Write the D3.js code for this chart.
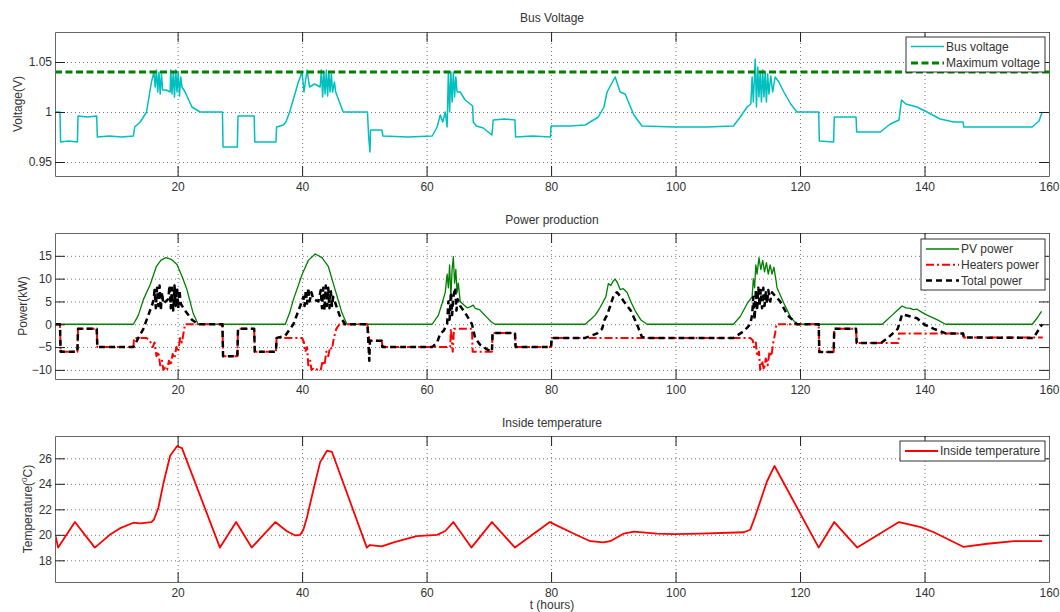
<!DOCTYPE html>
<html>
<head>
<meta charset="utf-8">
<script src="https://cdn.jsdelivr.net/npm/d3@7"></script>
<style>
  body { margin: 0; background: #fff; }
  text { font-family: "Liberation Sans", Arial, sans-serif; font-size: 12px; fill: #333; }
</style>
</head>
<body>
<div id="chart"></div>
<script>

// ---- data (t in hours) ----
const xTicks = [20, 40, 60, 80, 100, 120, 140, 160];
const voltTicks = [0.95, 1, 1.05];
const powerTicks = [-10, -5, 0, 5, 10, 15];
const tempTicks = [18, 20, 22, 24, 26];

const busVoltage = [
  [0.4,1.0],[1.1,1.0],[1.2,0.970],[2.5,0.971],[3.9,0.970],[4.0,0.996],[5.5,0.995],[7.0,0.996],[7.1,0.975],[9,0.976],[11,0.975],[12.9,0.976],
  [13.1,0.985],[14.0,0.990],[15.0,1.0],[15.8,1.03],[16.2,1.04],[16.4,1.025],[16.6,1.042],[16.8,1.02],[17.0,1.04],[17.2,1.018],[17.4,1.038],[17.6,1.022],
  [18.2,1.022],[18.8,1.02],[18.9,1.042],[19.1,1.018],[19.3,1.04],[19.5,1.015],[19.7,1.042],[19.9,1.02],[20.1,1.04],[20.3,1.016],[20.5,1.035],[20.7,1.025],
  [21.2,1.02],[22.3,1.005],[23.6,1.0],[27.2,1.0],[27.3,0.965],[29.6,0.965],[29.7,0.996],[32.3,0.996],[32.4,0.970],[35.8,0.970],[35.9,0.985],[37.0,0.987],
  [37.4,0.990],[38.0,1.0],[39.4,1.03],[40.0,1.04],[40.3,1.02],[40.8,1.042],[41.2,1.025],[42,1.028],[42.9,1.025],[43.1,1.042],[43.3,1.015],[43.5,1.04],
  [43.7,1.018],[43.9,1.042],[44.1,1.016],[44.3,1.04],[44.5,1.02],[44.7,1.038],[44.9,1.02],[45.2,1.03],[45.4,1.02],[46.6,1.0],[47.5,1.0],[50.5,1.0],
  [50.7,0.975],[50.9,0.960],[51.0,0.982],[52.8,0.982],[53.0,0.976],[57,0.975],[60.9,0.976],[61.7,0.985],[62.2,0.997],[62.6,0.99],[63.0,1.0],[63.3,0.985],
  [63.5,1.04],[63.7,1.0],[63.9,1.04],[64.1,1.01],[64.3,1.04],[64.5,1.015],[64.7,1.035],[64.9,1.02],[65.4,1.02],[66.2,1.012],[67.0,1.008],[67.4,1.006],
  [67.5,0.99],[68.0,0.986],[69.1,0.984],[70.5,0.977],[70.7,0.992],[72.5,0.993],[74.2,0.992],[74.3,0.975],[77,0.976],[79.9,0.975],[80.0,0.986],[83,0.986],
  [85.5,0.987],[87.6,0.995],[88.5,1.005],[89.0,1.02],[90.3,1.035],[91.1,1.02],[91.9,1.018],[93.3,0.997],[94.6,0.986],[100,0.985],[105,0.985],[109.3,0.986],
  [110.4,0.995],[111.5,1.005],[112.1,1.008],[112.3,1.035],[112.5,1.01],[112.8,1.053],[113.0,1.005],[113.2,1.045],[113.4,1.015],[113.6,1.04],[113.8,1.01],
  [114.0,1.042],[114.2,1.015],[114.4,1.04],[114.6,1.01],[114.8,1.038],[115.0,1.018],[115.3,1.036],[115.6,1.02],[116.0,1.035],[116.6,1.03],[117.4,1.02],
  [118.5,1.008],[119.5,1.0],[123,1.0],[123.1,0.971],[125.4,0.970],[125.5,0.995],[129,0.995],[129.1,0.980],[132.9,0.980],[134.5,0.988],[135.9,0.992],
  [136.3,1.012],[137,1.008],[138.8,1.005],[140.4,1.0],[142.5,0.993],[144.7,0.990],[146.2,0.990],[146.3,0.985],[152,0.985],[157.3,0.985],[158.4,0.991],[158.9,1.0]
];
const maxVoltage = [[0.3,1.04],[160,1.04]];

const pvPower = [
  [0.4,0],[12.9,0],[13.7,2],[14.5,5.4],[15.6,8.7],[16.6,12.7],[17.3,14.0],[18.1,14.6],[19.0,14.2],[19.9,13.1],[20.7,10.5],[21.5,7.6],[22.5,2.4],[23.3,0],
  [37.3,0],[38.0,2.5],[38.6,5.4],[40,10.9],[41.0,14.0],[42.1,15.4],[43.2,14.6],[44.2,12.7],[45.3,7.6],[46.4,2.5],[47.2,0],
  [60.9,0],[61.9,2],[62.5,4.6],[63.0,7],[63.3,11],[63.5,8],[63.7,13],[63.9,6],[64.1,12],[64.3,14.8],[64.5,9],[64.7,12],[64.9,7],[65.1,9],[65.4,5],
  [66.0,4.2],[66.5,3.6],[67.0,3.8],[67.5,4.2],[67.8,3.5],[68.5,3.2],[69.2,2.2],[69.7,1.5],[70.4,0.5],[71,0],
  [85.5,0],[86.3,1],[87.1,2],[87.8,3.5],[88.4,5],[88.8,6],[89.2,8.9],[89.6,8.5],[90.0,9.5],[90.3,9.9],[90.7,9],[91.1,7.6],[91.6,7.8],[92.2,7.0],
  [92.8,5],[93.5,3],[94.4,1],[95.4,0],
  [109.3,0],[110.4,1.7],[111.5,4.5],[112.3,6],[112.5,10],[112.7,8],[112.9,13],[113.1,11],[113.4,14.6],[113.7,12],[114.0,14],[114.3,11.5],[114.6,13.5],
  [114.9,11],[115.2,13],[115.5,11],[115.8,12.5],[116.1,10],[116.3,8],[117.4,4.6],[118.5,1.5],[119.5,0],
  [133.2,0],[134.0,1],[134.8,2],[135.6,3],[136.4,4],[137.0,3.6],[137.7,3.5],[138.2,3.2],[138.8,3.3],[139.6,2.6],[140.4,2],[141.2,1.5],[142,1],[143.4,0],
  [157.3,0],[158.0,1.2],[158.8,2.8]
];

const heatersPower = [
  [0.4,0],[1.1,0],[1.2,-6],[3.9,-6],[4.0,-1],[7.0,-1],[7.1,-5],[12.9,-5],[13.0,-3],[15.0,-3],[15.5,-3.5],[16.0,-5],[16.3,-4],[16.6,-7],[16.9,-6],
  [17.2,-9],[17.5,-8],[17.7,-10],[18.0,-9.5],[18.3,-10],[18.6,-8],[18.9,-9],[19.2,-6.5],[19.5,-7.5],[19.8,-5],[20.1,-6],[20.4,-3],[20.7,-4],[21.0,-1.5],
  [21.2,0],[27.2,0],[27.3,-7],[29.6,-7],[29.7,-1],[32.3,-1],[32.4,-6],[35.8,-6],[35.9,-3],[40.0,-3],[40.3,-4],[40.5,-6],[40.8,-5],[41.0,-9],[41.3,-8],
  [41.5,-10],[42.0,-9.5],[42.5,-10],[43.0,-10],[43.3,-8],[43.6,-9],[43.9,-6],[44.2,-7],[44.5,-5],[44.8,-5.5],[45.1,-3],[45.5,-1],[46.0,0],[50.5,0],
  [50.8,-3.6],[52.8,-3.6],[52.9,-5],[63.8,-5],[63.9,-1],[64.2,-6],[64.4,-1],[67.3,-1],[67.4,-6],[70.5,-6],[70.6,-1.9],[74.2,-1.9],[74.3,-5],[80,-5],
  [80.1,-3],[112.0,-3],[112.4,-3.5],[112.6,-5],[112.9,-4],[113.1,-7],[113.4,-6],[113.6,-10],[113.9,-8],[114.2,-10],[114.5,-7.5],[114.8,-9],[115.1,-6],
  [115.4,-7],[115.7,-4],[116.0,-2],[116.2,0],[123,0],[123.1,-6.1],[125.4,-6.1],[125.5,-1],[129,-1],[129.1,-4.1],[135.8,-4.1],[135.9,-2],[146.2,-2],
  [146.3,-2.9],[159,-2.9]
];

const totalPower = [
  [0.4,0],[1.1,0],[1.2,-6],[3.9,-6],[4.0,-1],[7.0,-1],[7.1,-5],[12.9,-5],[13.7,-3],[14.5,-1],[15.3,2],[16.1,5],[16.3,7.5],[16.5,3.5],[16.7,8],[16.9,4],
  [17.1,8.5],[17.3,3],[17.5,7],[17.7,4.5],[18.5,5.5],[18.7,8.5],[18.9,3.5],[19.1,8],[19.3,3],[19.5,8.5],[19.7,4],[19.9,8],[20.1,3.5],[20.3,7.5],[20.5,4.5],
  [21.2,3],[22.3,1],[23.3,0],[27.2,0],[27.3,-7],[29.6,-7],[29.7,-1],[32.3,-1],[32.4,-6],[35.8,-6],[35.9,-3],[37.3,-2.5],[38.6,0],[39.7,4],[40.2,6],
  [40.4,4],[40.6,7.5],[40.8,4.5],[41.0,8],[41.2,5],[41.5,7],[41.8,5.5],[42.6,5],[43.0,7.5],[43.2,3.5],[43.4,8],[43.6,3],[43.8,8.5],[44.0,4],[44.2,8],
  [44.4,3.5],[44.6,7.5],[44.8,4],[45.0,6],[46.0,2],[46.9,0],[50.5,0],[50.8,-8],[50.9,-3.6],[52.8,-3.6],[52.9,-5],[60.9,-5],[61.7,-4],[62.2,-2],
  [62.7,-1.5],[63.3,0],[63.5,5],[63.7,1],[63.9,7],[64.1,2],[64.3,6],[64.6,8],[64.8,3],[65.0,5.5],[65.4,4],[66.2,2.5],[67.3,0],[67.8,-3],[68.6,-4.5],
  [69.7,-5.5],[70.5,-6],[70.6,-1.9],[74.2,-1.9],[74.3,-5],[80,-5],[80.1,-3],[85.5,-3],[87.4,-2],[88.2,-1],[88.6,1],[89.0,2],[89.5,4],[90.1,6.5],
  [90.6,7],[91.2,6],[91.7,5],[92.8,3],[93.8,0],[94.6,-2.8],[95.5,-3],[109.3,-3],[111,-1.5],[112,0],[112.3,2],[112.5,6],[112.7,1],[112.9,7.5],[113.1,3],
  [113.3,8],[113.5,4],[113.7,7.5],[113.9,3.5],[114.1,8],[114.3,4],[114.5,7],[114.7,4.5],[114.9,7.5],[115.2,5],[115.5,7],[115.8,6.5],[116.2,6],[116.8,5],
  [118,2],[119.5,0],[123,0],[123.1,-6.1],[125.4,-6.1],[125.5,-1],[129,-1],[129.1,-4.1],[133,-4.1],[134.1,-3],[135.7,-1],[136.4,2.2],[137.5,1.8],
  [138.8,1.3],[139.9,0],[141.5,-1],[143.4,-2],[146.2,-2],[146.3,-2.9],[157.5,-3],[158.9,0]
];

const temperature = [
  [0.4,19.9],[0.8,19.0],[3.5,21.0],[6.7,19.0],[9.1,20.0],[10.7,20.5],[12.9,20.95],[14.0,20.9],[15.8,21.0],[16.2,21.2],[16.9,22.1],[17.7,24.0],[18.8,26.2],
  [19.9,26.95],[20.7,26.8],[26.8,19.0],[29.4,21.0],[31.9,19.0],[35.7,21.0],[37.5,20.3],[38.9,19.95],[39.7,20.0],[40.2,20.4],[40.8,21.4],[41.8,23.5],
  [42.9,25.7],[44.0,26.6],[44.8,26.5],[50.4,19.0],[50.9,19.2],[52.8,19.1],[54.7,19.4],[58.4,19.9],[61.7,20.0],[63.0,20.3],[64.3,21.0],[67.2,19.0],
  [70.5,21.0],[74.2,19.0],[79.8,21.0],[83.6,20.1],[86.3,19.5],[88.4,19.4],[89.5,19.5],[91.7,20.1],[93.3,20.25],[97,20.1],[99.7,20.05],[104,20.1],
  [111,20.2],[112,20.4],[112.8,21.45],[114.7,24.2],[115.9,25.4],[123,19.0],[125.5,21.0],[129.2,19.0],[133.2,20.2],[135.9,21.0],[139.4,20.6],[141.5,20.2],
  [146.3,19.05],[150.1,19.3],[154.4,19.5],[158.9,19.5]
];

// ---- layout ----
const width = 1060, height = 612;
const left = 55, right = 1049;

const svg = d3.select("#chart").append("svg")
    .attr("width", width)
    .attr("height", height);

const x = d3.scaleLinear().domain([0.3, 160]).range([left, right]);

// one panel = box, grid, ticks, labels, lines, legend
function drawPanel(opts) {
    let y = d3.scaleLinear().domain(opts.domain).range([opts.bottom, opts.top]);
    let g = svg.append("g");
    let h = opts.bottom - opts.top;

    let clipId = "clip" + opts.id;
    svg.append("clipPath").attr("id", clipId)
        .append("rect").attr("x", left).attr("y", opts.top).attr("width", right - left).attr("height", h);

    // grid
    g.append("g")
        .attr("transform", "translate(0," + opts.bottom + ")")
        .call(d3.axisBottom(x).tickValues(xTicks).tickSize(-h).tickFormat(""))
        .call(a => a.select(".domain").remove())
        .selectAll("line").attr("stroke", "#777").attr("stroke-dasharray", "1,3");
    g.append("g")
        .attr("transform", "translate(" + left + ",0)")
        .call(d3.axisLeft(y).tickValues(opts.ticks).tickSize(-(right - left)).tickFormat(""))
        .call(a => a.select(".domain").remove())
        .selectAll("line").attr("stroke", "#777").attr("stroke-dasharray", "1,3");

    // lines
    let line = d3.line().x(d => x(d[0])).y(d => y(d[1]));
    let lines = g.append("g").attr("clip-path", "url(#" + clipId + ")");
    opts.series.forEach(s => {
        lines.append("path")
            .datum(s.data)
            .attr("d", line)
            .attr("fill", "none")
            .attr("stroke", s.color)
            .attr("stroke-width", s.width)
            .attr("stroke-dasharray", s.dash || null)
            .attr("stroke-linejoin", "round");
    });

    // axes with inward ticks
    let bottomAxis = g.append("g")
        .attr("transform", "translate(0," + opts.bottom + ")")
        .call(d3.axisBottom(x).tickValues(xTicks).tickSizeInner(-10).tickSizeOuter(0).tickPadding(6));
    let topAxis = g.append("g")
        .attr("transform", "translate(0," + opts.top + ")")
        .call(d3.axisTop(x).tickValues(xTicks).tickSizeInner(-10).tickSizeOuter(0).tickFormat(""));
    let leftAxis = g.append("g")
        .attr("transform", "translate(" + left + ",0)")
        .call(d3.axisLeft(y).tickValues(opts.ticks).tickSizeInner(-10).tickSizeOuter(0).tickPadding(3).tickFormat(d3.format("")));
    let rightAxis = g.append("g")
        .attr("transform", "translate(" + right + ",0)")
        .call(d3.axisRight(y).tickValues(opts.ticks).tickSizeInner(-10).tickSizeOuter(0).tickFormat(""));
    [bottomAxis, topAxis, leftAxis, rightAxis].forEach(a => {
        a.select(".domain").attr("stroke", "#666");
        a.selectAll(".tick line").attr("stroke", "#222");
        a.selectAll("text").attr("font-size", null).attr("font-family", null).attr("fill", "#333");
    });

    // title
    g.append("text")
        .attr("x", (left + right) / 2)
        .attr("y", opts.titleY)
        .attr("text-anchor", "middle")
        .text(opts.title);

    // y label
    let yl = g.append("text")
        .attr("transform", "translate(" + opts.labelX + "," + (opts.top + opts.bottom) / 2 + ") rotate(-90)")
        .attr("text-anchor", "middle");
    opts.label(yl);

    // legend
    let lg = g.append("g");
    lg.append("rect")
        .attr("x", opts.legend.x).attr("y", opts.legend.y)
        .attr("width", right - 4 - opts.legend.x).attr("height", opts.legend.h)
        .attr("fill", "#fff").attr("stroke", "#333").attr("stroke-width", 1);
    opts.series.forEach((s, i) => {
        let ly = opts.legend.y + opts.legend.first + i * opts.legend.step;
        lg.append("line")
            .attr("x1", opts.legend.x + 5).attr("x2", opts.legend.x + 38)
            .attr("y1", ly).attr("y2", ly)
            .attr("stroke", s.color)
            .attr("stroke-width", s.width)
            .attr("stroke-dasharray", s.dash || null);
        lg.append("text")
            .attr("x", opts.legend.x + 40)
            .attr("y", ly)
            .attr("dy", "0.35em")
            .text(s.name);
    });
}

drawPanel({
    id: 1, top: 32, bottom: 176, domain: [0.936, 1.08], ticks: voltTicks,
    title: "Bus Voltage", titleY: 22, labelX: 22,
    label: t => t.text("Voltage(V)"),
    series: [
        { name: "Bus voltage", data: busVoltage, color: "#00bfbf", width: 1.5 },
        { name: "Maximum voltage", data: maxVoltage, color: "#008000", width: 3, dash: "7,3.5" }
    ],
    legend: { x: 906, y: 37, h: 35, first: 9.5, step: 16.5 }
});

drawPanel({
    id: 2, top: 233, bottom: 379, domain: [-12, 20], ticks: powerTicks,
    title: "Power production", titleY: 224, labelX: 27,
    label: t => t.text("Power(kW)"),
    series: [
        { name: "PV power", data: pvPower, color: "#008000", width: 1.3 },
        { name: "Heaters power", data: heatersPower, color: "#ff0000", width: 2, dash: "8,3,2,3" },
        { name: "Total power", data: totalPower, color: "#000", width: 2.5, dash: "6,4" }
    ],
    legend: { x: 921, y: 239, h: 51, first: 10, step: 15.7 }
});

drawPanel({
    id: 3, top: 436, bottom: 582, domain: [16.3, 27.75], ticks: tempTicks,
    title: "Inside temperature", titleY: 427, labelX: 32,
    label: t => {
        t.append("tspan").text("Temperature(");
        t.append("tspan").attr("font-size", "8px").attr("dy", "-5").text("0");
        t.append("tspan").attr("dy", "5").text("C)");
    },
    series: [
        { name: "Inside temperature", data: temperature, color: "#ff0000", width: 1.8 }
    ],
    legend: { x: 900, y: 441, h: 20, first: 10, step: 16 }
});

svg.append("text")
    .attr("x", (left + right) / 2)
    .attr("y", 609)
    .attr("text-anchor", "middle")
    .text("t (hours)");

</script>
</body>
</html>
